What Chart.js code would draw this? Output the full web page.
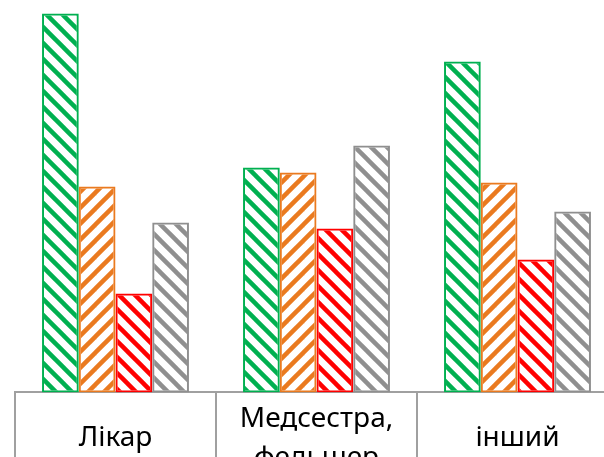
<!DOCTYPE html>
<html>
<head>
<meta charset="utf-8">
<script src="https://cdn.jsdelivr.net/npm/chart.js@4.4.1/dist/chart.umd.min.js"></script>
<style>
    html, body { margin: 0; padding: 0; background: #fff; overflow: hidden; }
    #wrap { width: 604px; height: 457px; overflow: hidden; }
</style>
</head>
<body>
<div id="wrap"><canvas id="chart" width="620" height="460"></canvas></div>
<script>
        // Data
        const categories = ['Лікар', ['Медсестра,', 'фельшер'], 'інший'];
        const seriesGreen = [37.9, 22.5, 33.1];
        const seriesOrange = [20.6, 22.0, 21.0];
        const seriesRed = [9.9, 16.4, 13.3];
        const seriesGray = [17.0, 24.7, 18.1];
        const yMax = 39.25;

        const ctx = document.getElementById('chart').getContext('2d');

        // diagonal hatch fill, "\" by default, "/" when up is true
        function hatch(color, up) {
            const s = 16;
            const tile = document.createElement('canvas');
            tile.width = s;
            tile.height = s;
            const g = tile.getContext('2d');
            g.strokeStyle = color;
            g.lineWidth = 4.5;
            [-s, 0, s].forEach(function (d) {
                g.beginPath();
                if (up) { g.moveTo(d - 2, s + 2); g.lineTo(d + s + 2, -2); }
                else { g.moveTo(d - 2, -2); g.lineTo(d + s + 2, s + 2); }
                g.stroke();
            });
            return ctx.createPattern(tile, 'repeat');
        }

        function series(label, data, color, up) {
            return {
                label: label,
                data: data,
                backgroundColor: hatch(color, up),
                borderColor: color,
                borderWidth: 2,
                borderSkipped: false,
                categoryPercentage: 0.731,
                barPercentage: 1
            };
        }

        new Chart(ctx, {
            type: 'bar',
            data: {
                labels: categories,
                datasets: [
                    series('Ряд 1', seriesGreen, '#00B050', false),
                    series('Ряд 2', seriesOrange, '#EA7A1F', true),
                    series('Ряд 3', seriesRed, '#FF0000', false),
                    series('Ряд 4', seriesGray, '#8F8F8F', false)
                ]
            },
            options: {
                responsive: false,
                animation: false,
                layout: { padding: { left: 15, right: 2, top: 0, bottom: 0 } },
                plugins: {
                    legend: { display: false },
                    tooltip: { enabled: false }
                },
                scales: {
                    y: { display: false, min: 0, max: yMax },
                    x: {
                        border: { display: true, color: '#A0A0A0', width: 2 },
                        grid: {
                            offset: true,
                            drawOnChartArea: false,
                            tickLength: 67.5,   // cell dividers run to the bottom
                            color: '#A0A0A0',
                            lineWidth: 2
                        },
                        ticks: {
                            color: '#000',
                            font: { family: 'Noto Sans', size: 28, lineHeight: 1.393 },
                            padding: -41,       // pulls labels up inside the cells
                            maxRotation: 0,
                            autoSkip: false,
                            crossAlign: 'center'
                        },
                        // empty title only pads the axis height
                        title: { display: true, text: ' ', font: { size: 4, lineHeight: 1 }, padding: 0 }
                    }
                }
            }
        });
</script>
</body>
</html>
